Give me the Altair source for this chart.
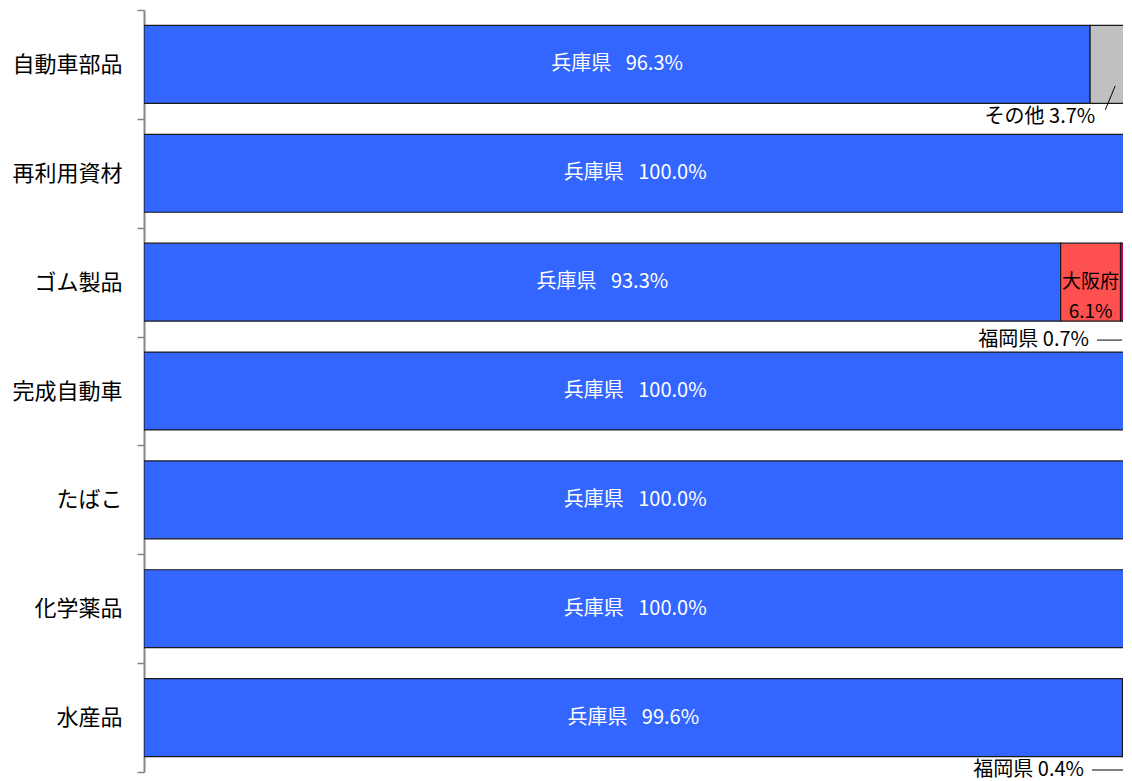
import altair as alt
import pandas as pd

# ---- data ----
categories = ["自動車部品", "再利用資材", "ゴム製品", "完成自動車", "たばこ", "化学薬品", "水産品"]

seg_category = ["自動車部品", "自動車部品",
                "再利用資材",
                "ゴム製品", "ゴム製品", "ゴム製品",
                "完成自動車",
                "たばこ",
                "化学薬品",
                "水産品", "水産品"]
seg_origin = ["兵庫県", "その他",
              "兵庫県",
              "兵庫県", "大阪府", "福岡県",
              "兵庫県",
              "兵庫県",
              "兵庫県",
              "兵庫県", "福岡県"]
seg_share = [96.3, 3.7,
             100.0,
             93.3, 6.1, 0.7,
             100.0,
             100.0,
             100.0,
             99.6, 0.4]

origins = ["兵庫県", "大阪府", "福岡県", "その他"]
origin_colors = ["#3366FF", "#FF5050", "#CC0066", "#C0C0C0"]

# the value axis of the original ends just short of 100 %
x_domain = [0, 99.65]

FONT = "Noto Sans CJK JP"

# ---- table ----
rows = []
for i, (c, o, s) in enumerate(zip(seg_category, seg_origin, seg_share)):
    if o == "兵庫県":
        lab = f"{o}\u2002\u00a0{s:.1f}%"
    elif o == "大阪府":
        lab = f"{o}\n{s:.1f}%"
    else:
        lab = f"{o} {s:.1f}%"
    rows.append({"category": c, "origin": o, "share": s, "order": i, "label": lab})
df = pd.DataFrame(rows)

base = (
    alt.Chart(df)
    .transform_stack(stack="share", groupby=["category"], as_=["x0", "x1"],
                     sort=[alt.SortField("order", order="ascending")])
    .transform_calculate(mid="(datum.x0 + datum.x1) / 2")
)

xscale = alt.Scale(domain=x_domain, nice=False, zero=True)
yscale = alt.Scale(domain=categories, paddingInner=0, paddingOuter=0)

yaxis = alt.Axis(
    title=None, tickBand="extent", domainColor="#868686", domainWidth=2,
    tickColor="#868686", tickSize=7, tickWidth=1.5,
    labelFont=FONT, labelFontSize=22, labelColor="#000000", labelPadding=15,
)

bars = base.mark_bar(stroke="#1a1a1a", strokeWidth=1.2, clip=True,
                     height={"band": 0.716}).encode(
    y=alt.Y("category:N", scale=yscale, axis=yaxis),
    x=alt.X("x0:Q", scale=xscale, axis=None),
    x2="x1:Q",
    color=alt.Color("origin:N", scale=alt.Scale(domain=origins, range=origin_colors), legend=None),
)

text_hyogo = base.transform_filter("datum.origin == '兵庫県'").mark_text(
    color="white", font=FONT, fontSize=20, baseline="middle"
).encode(
    x=alt.X("mid:Q", scale=xscale),
    y=alt.Y("category:N", scale=yscale),
    text="label:N",
)

text_osaka = base.transform_filter("datum.origin == '大阪府'").mark_text(
    color="#000000", font=FONT, fontSize=19, baseline="middle", lineBreak="\n", lineHeight=30
).encode(
    x=alt.X("mid:Q", scale=xscale),
    y=alt.Y("category:N", scale=yscale),
    text="label:N",
)

# その他 label below its segment with slanted leader
other = base.transform_filter("datum.origin == 'その他'")
text_other = other.mark_text(
    color="#000000", font=FONT, fontSize=20, align="right", baseline="middle", dx=-13, dy=-2
).encode(
    x=alt.X("mid:Q", scale=xscale),
    y=alt.Y("category:N", scale=yscale, bandPosition=1),
    text="label:N",
)
rule_other = other.mark_rule(color="#000000", strokeWidth=1, xOffset=-3, x2Offset=7,
                             yOffset=-9, y2Offset=-33).encode(
    x=alt.X("mid:Q", scale=xscale),
    x2="mid:Q",
    y=alt.Y("category:N", scale=yscale, bandPosition=1),
    y2=alt.Y2("category:N", bandPosition=1),
)

# 福岡県 labels below the bars with horizontal leader
fk_rubber = base.transform_filter("datum.origin == '福岡県' && datum.category == 'ゴム製品'")
fk_fish = base.transform_filter("datum.origin == '福岡県' && datum.category == '水産品'")


def fukuoka_layers(src, dy, rule_from, rule_to, text_dx):
    t = src.mark_text(
        color="#000000", font=FONT, fontSize=20, align="right", baseline="middle", dx=text_dx, dy=dy
    ).encode(
        x=alt.X("x0:Q", scale=xscale),
        y=alt.Y("category:N", scale=yscale, bandPosition=1),
        text="label:N",
    )
    r = src.mark_rule(color="#000000", strokeWidth=1, xOffset=rule_from, x2Offset=rule_to,
                      yOffset=dy).encode(
        x=alt.X("x0:Q", scale=xscale),
        x2="x0:Q",
        y=alt.Y("category:N", scale=yscale, bandPosition=1),
    )
    return t + r


chart = alt.layer(
    bars, text_hyogo, text_osaka, text_other, rule_other,
    fukuoka_layers(fk_rubber, 3.5, -23.5, 1.5, -31.5),
    fukuoka_layers(fk_fish, -2, -30.5, 0.5, -38.5),
).properties(
    width=979, height=762,
    autosize=alt.AutoSizeParams(type="none"),
    padding={"left": 136, "top": 2, "right": 1, "bottom": 10},
).configure_view(stroke=None)

chart.save("out.html", embed_options={"renderer": "svg", "actions": False})
